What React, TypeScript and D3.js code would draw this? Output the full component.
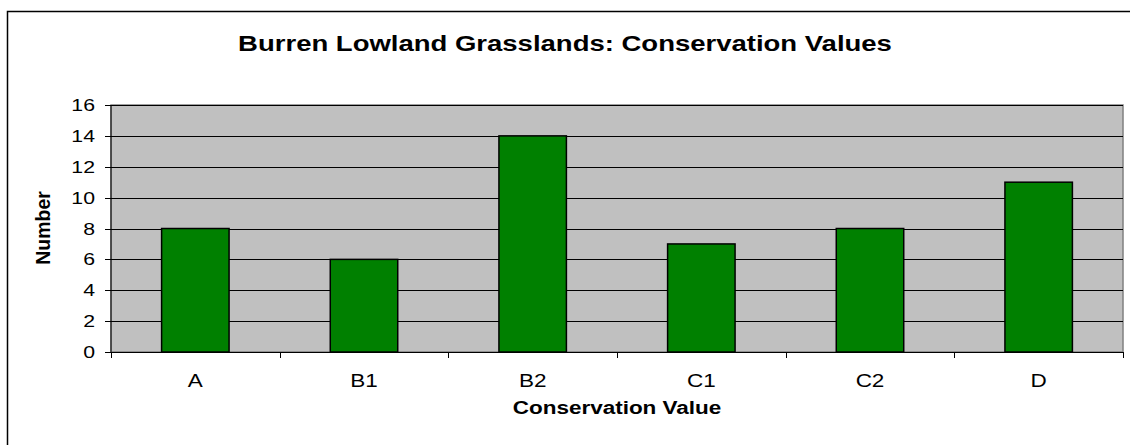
import { useEffect, useRef } from "react";
import * as d3 from "d3";

const categories = ["A", "B1", "B2", "C1", "C2", "D"];
const values = [8, 6, 14, 7, 8, 11];
const yTicks = [0, 2, 4, 6, 8, 10, 12, 14, 16];

const W = 1130;
const H = 445;
const plot = { left: 111, right: 1123, top: 105, bottom: 352 };
const FONT = "Arial, 'Liberation Sans', sans-serif";
// the source picture is stretched sideways, so the text is widened to match
const SX = 1.25;

const App = () => {
    const ref = useRef<SVGSVGElement>(null);

    useEffect(() => {
        const svg = d3.select(ref.current);
        svg.selectAll("*").remove();

        const x = d3
            .scaleBand<string>()
            .domain(categories)
            .range([plot.left, plot.right])
            .paddingInner(0.6)
            .paddingOuter(0.3);
        const xEdge = d3
            .scaleBand<string>()
            .domain(categories)
            .range([plot.left, plot.right]);
        const y = d3.scaleLinear().domain([0, 16]).range([plot.bottom, plot.top]);

        const label = (
            tx: number,
            ty: number,
            text: string,
            size: number,
            anchor: string,
            bold = false
        ) =>
            svg.append("text")
                .attr("transform", `translate(${tx}, ${ty}) scale(${SX}, 1)`)
                .attr("text-anchor", anchor)
                .attr("font-family", FONT)
                .attr("font-weight", bold ? "bold" : "normal")
                .attr("font-size", size)
                .text(text);

        // outer chart frame (cropped at right and bottom)
        svg.append("rect")
            .attr("x", 7.5)
            .attr("y", 11.5)
            .attr("width", 1140)
            .attr("height", 460)
            .attr("fill", "white")
            .attr("stroke", "black")
            .attr("stroke-width", 1.5);

        // plot area
        svg.append("rect")
            .attr("x", plot.left)
            .attr("y", plot.top)
            .attr("width", plot.right - plot.left)
            .attr("height", plot.bottom - plot.top)
            .attr("fill", "#C0C0C0")
            .attr("stroke", "#808080")
            .attr("stroke-width", 1.5);

        // gridlines
        svg.append("g")
            .selectAll("line")
            .data(yTicks.slice(1))
            .enter()
            .append("line")
            .attr("x1", plot.left)
            .attr("x2", plot.right)
            .attr("y1", (d) => Math.round(y(d)) + 0.5)
            .attr("y2", (d) => Math.round(y(d)) + 0.5)
            .attr("stroke", "#000")
            .attr("stroke-width", 1);

        // bars
        svg.append("g")
            .selectAll("rect")
            .data(values)
            .enter()
            .append("rect")
            .attr("x", (_, i) => x(categories[i])!)
            .attr("y", (d) => y(d))
            .attr("width", x.bandwidth())
            .attr("height", (d) => plot.bottom - y(d))
            .attr("fill", "#008000")
            .attr("stroke", "#000")
            .attr("stroke-width", 1.5);

        // y axis
        svg.append("line")
            .attr("x1", plot.left)
            .attr("x2", plot.left)
            .attr("y1", plot.top)
            .attr("y2", plot.bottom)
            .attr("stroke", "#000");
        yTicks.forEach((t) => {
            const yy = Math.round(y(t)) + 0.5;
            svg.append("line")
                .attr("x1", plot.left - 6)
                .attr("x2", plot.left)
                .attr("y1", yy)
                .attr("y2", yy)
                .attr("stroke", "#000");
            label(95, yy + 5.5, String(t), 17, "end");
        });

        // x axis
        svg.append("line")
            .attr("x1", plot.left - 6)
            .attr("x2", plot.right)
            .attr("y1", plot.bottom + 0.5)
            .attr("y2", plot.bottom + 0.5)
            .attr("stroke", "#000");
        const edges = categories.map((c) => xEdge(c)!).concat([plot.right]);
        edges.forEach((e) => {
            svg.append("line")
                .attr("x1", Math.round(e) + 0.5)
                .attr("x2", Math.round(e) + 0.5)
                .attr("y1", plot.bottom)
                .attr("y2", plot.bottom + 6)
                .attr("stroke", "#000");
        });
        categories.forEach((c) => {
            label(xEdge(c)! + xEdge.bandwidth() / 2, 387, c, 18, "middle");
        });

        // titles
        label(565, 51, "Burren Lowland Grasslands: Conservation Values", 22, "middle", true);
        label((plot.left + plot.right) / 2, 414, "Conservation Value", 18, "middle", true);

        svg.append("text")
            .attr("transform", `translate(50, 228) rotate(-90)`)
            .attr("text-anchor", "middle")
            .attr("font-family", FONT)
            .attr("font-weight", "bold")
            .attr("font-size", 19.5)
            .text("Number");
    }, []);

    return (
        <svg
            ref={ref}
            width={W}
            height={H}
            style={{ position: "fixed", left: 0, top: 0, background: "white" }}
        ></svg>
    );
};

export default App;
